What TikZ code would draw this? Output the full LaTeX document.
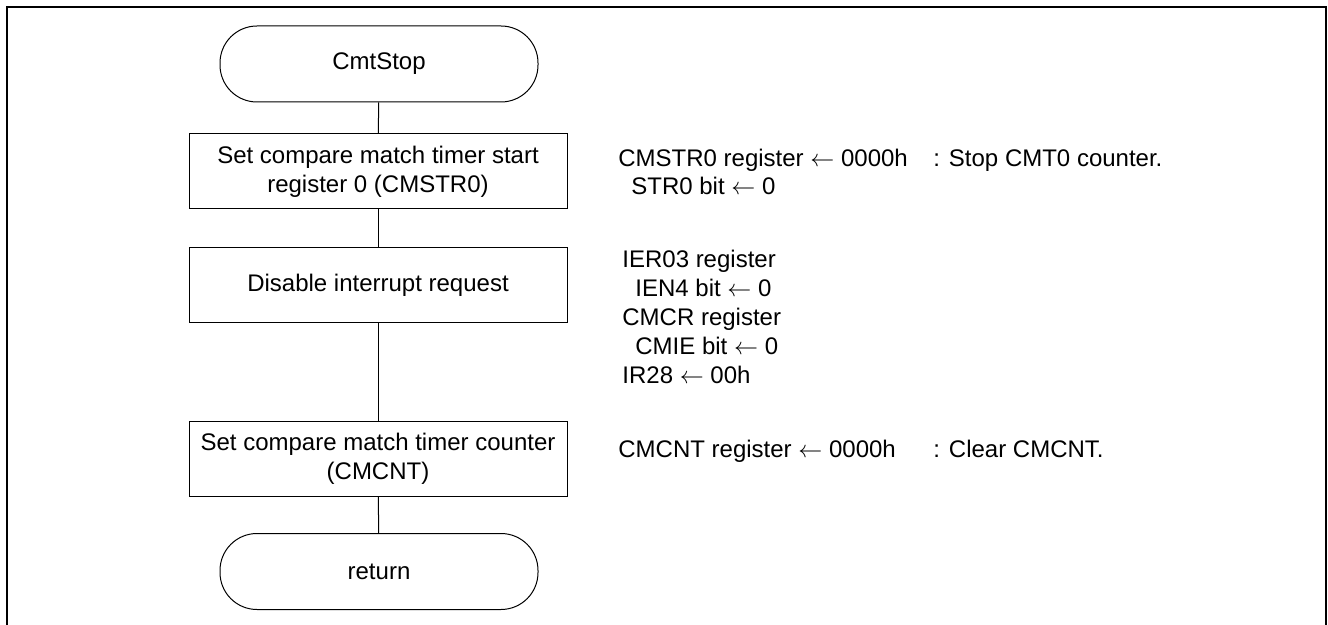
\documentclass[tikz,border=0pt]{standalone}
\usepackage{fontspec}
\setmainfont{Liberation Sans}
\usetikzlibrary{positioning}

\tikzset{
  procbox/.style={draw, line width=0.5pt, minimum width=189pt, minimum height=37.5pt,
    align=center, inner sep=0pt},
  termbox/.style={draw, line width=0.5pt, rounded corners=18.5pt, minimum width=159pt,
    minimum height=38pt, inner sep=0pt},
  note/.style={anchor=base west, inner sep=0pt},
}

\begin{document}
\begin{tikzpicture}[x=0.5pt, y=-0.5pt, font=\fontsize{12}{14.3}\selectfont]
    \useasboundingbox (0,0) rectangle (1328,625);
    % frame
    \draw[line width=1pt] (6.5,625) -- (6.5,7.5) -- (1326,7.5) -- (1326,625);
    % flow
    \node[termbox] (start) at (379,64) {CmtStop};
    \node[procbox] (cmstr) at (378,171.5) {Set compare match timer start\\register 0 (CMSTR0)};
    \node[procbox] (irq) at (378,285) {Disable interrupt request};
    \node[procbox] (cmcnt) at (378,459) {Set compare match timer counter\\(CMCNT)};
    \node[termbox] (ret) at (379,571.5) {return};
    \draw[line width=0.5pt] (start) -- (cmstr);
    \draw[line width=0.5pt] (cmstr) -- (irq);
    \draw[line width=0.5pt] (irq) -- (cmcnt);
    \draw[line width=0.5pt] (cmcnt) -- (ret);
    % register notes
    \node[note] (n1) at (618,166.5) {CMSTR0 register $\leftarrow$ 0000h};
    \node[note] (n1c) at (933,166.5) {: Stop CMT0 counter.};
    \node[note] (n2) at (631,195) {STR0 bit $\leftarrow$ 0};
    \node[note] (n3) at (622,268) {IER03 register};
    \node[note] (n4) at (635,297) {IEN4 bit $\leftarrow$ 0};
    \node[note] (n5) at (622,326) {CMCR register};
    \node[note] (n6) at (635,355) {CMIE bit $\leftarrow$ 0};
    \node[note] (n7) at (622,384) {IR28 $\leftarrow$ 00h};
    \node[note] (n8) at (618,458) {CMCNT register $\leftarrow$ 0000h};
    \node[note] (n8c) at (933,458) {: Clear CMCNT.};
\end{tikzpicture}
\end{document}
